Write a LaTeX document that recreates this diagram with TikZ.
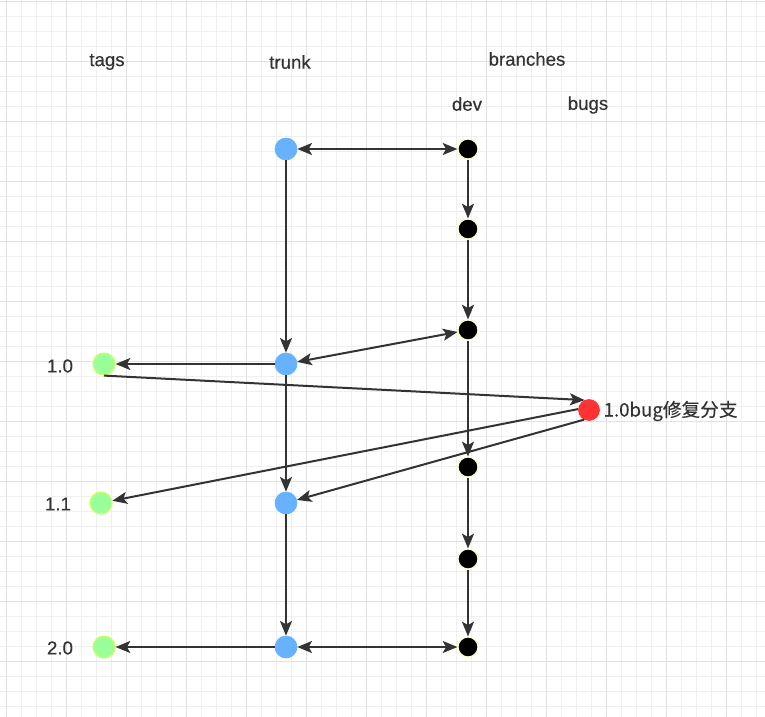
\documentclass[tikz,border=0pt]{standalone}
\usepackage{fontspec}
\setmainfont{Liberation Sans}[FakeBold=0.35]
\newfontfamily\cjk{Noto Sans CJK SC}[FakeBold=0.25]
\usetikzlibrary{arrows.meta}
\definecolor{ink}{HTML}{333333}
\definecolor{gridminor}{HTML}{EFEFEF}
\definecolor{gridmajor}{HTML}{E2E2E2}
\definecolor{trunkblue}{HTML}{66B2FF}
\definecolor{taggreen}{HTML}{99FF99}
\definecolor{tagedge}{HTML}{CCFF66}
\definecolor{devedge}{HTML}{FFFFCC}
\definecolor{bugred}{HTML}{FF3333}
\tikzset{
  minorline/.style={draw=gridminor, line width=0.75pt},
  majorline/.style={draw=gridmajor, line width=0.75pt},
  trunknode/.style={circle, fill=trunkblue, draw=trunkblue, line width=0.5pt, minimum size=16.5pt, inner sep=0pt},
  devnode/.style={circle, fill=black, draw=devedge, line width=0.9pt, minimum size=15pt, inner sep=0pt},
  tagnode/.style={circle, fill=taggreen, draw=tagedge, line width=0.9pt, minimum size=16.5pt, inner sep=0pt},
  bugnode/.style={circle, fill=bugred, draw=bugred, line width=0.5pt, minimum size=15.75pt, inner sep=0pt},
  lbl/.style={text=ink, font=\fontsize{14}{16}\selectfont, inner sep=1pt},
  tip/.tip={Stealth[length=11pt,width=9pt,inset=2.5pt]},
  conn/.style={draw=ink, line width=1.5pt, -tip},
  biconn/.style={draw=ink, line width=1.5pt, tip-tip},
}
\begin{document}
\begin{tikzpicture}[x=0.75pt,y=-0.75pt]
\useasboundingbox (0,0) rectangle (765,717);
\fill[white] (0,0) rectangle (765,717);
% grid
\foreach \i in {0,...,50} { \draw[minorline] ({6.5+15*\i},0) -- ({6.5+15*\i},717); }
\foreach \i in {0,...,47} { \draw[minorline] (0,{1.5+15*\i}) -- (765,{1.5+15*\i}); }
\foreach \i in {0,...,12} { \draw[majorline] ({6.5+60*\i},0) -- ({6.5+60*\i},717); }
\foreach \i in {0,...,11} { \draw[majorline] (0,{1.5+60*\i}) -- (765,{1.5+60*\i}); }

% headings
\node[lbl] (htags) at (107,62) {tags};
\node[lbl] (htrunk) at (290,62) {trunk};
\node[lbl] (hbranches) at (527,59) {branches};
\node[lbl] (hdev) at (467,104) {dev};
\node[lbl] (hbugs) at (588,105) {bugs};
\node[lbl] (l10) at (60,366) {1.0};
\node[lbl] (l11) at (58,504) {1.1};
\node[lbl] (l20) at (60,648) {2.0};

% trunk
\node[trunknode] (tr1) at (286,149) {};
\node[trunknode] (tr2) at (286,364) {};
\node[trunknode] (tr3) at (286,503) {};
\node[trunknode] (tr4) at (286,647) {};
% dev
\node[devnode] (d1) at (468,149) {};
\node[devnode] (d2) at (468,229) {};
\node[devnode] (d3) at (468,330) {};
\node[devnode] (d4) at (468,467) {};
\node[devnode] (d5) at (468,559) {};
\node[devnode] (d6) at (468,647) {};
% tags
\node[tagnode] (t10) at (104,364) {};
\node[tagnode] (t11) at (101,503) {};
\node[tagnode] (t20) at (104,647) {};
% bug branch
\node[bugnode] (bug) at (589,410) {};
\node[lbl, anchor=west] (lbug) at (602,411) {\cjk 1.0bug修复分支};

% connectors
\draw[biconn] (tr1) -- (d1);
\draw[conn] (d1) -- (d2);
\draw[conn] (d2) -- (d3);
\draw[conn] (d3) -- (d4);
\draw[conn] (d4) -- (d5);
\draw[conn] (d5) -- (d6);
\draw[conn] (tr1) -- (tr2);
\draw[conn] (tr2) -- (tr3);
\draw[conn] (tr3) -- (tr4);
\draw[biconn] (tr2) -- (d3);
\draw[conn] (tr2) -- (t10);
\draw[conn] (t10.south) -- (bug.114);
\draw[conn] (bug.175) -- (t11);
\draw[conn] (bug.243) -- (tr3);
\draw[biconn] (tr4) -- (d6);
\draw[conn] (tr4) -- (t20);
\end{tikzpicture}
\end{document}
